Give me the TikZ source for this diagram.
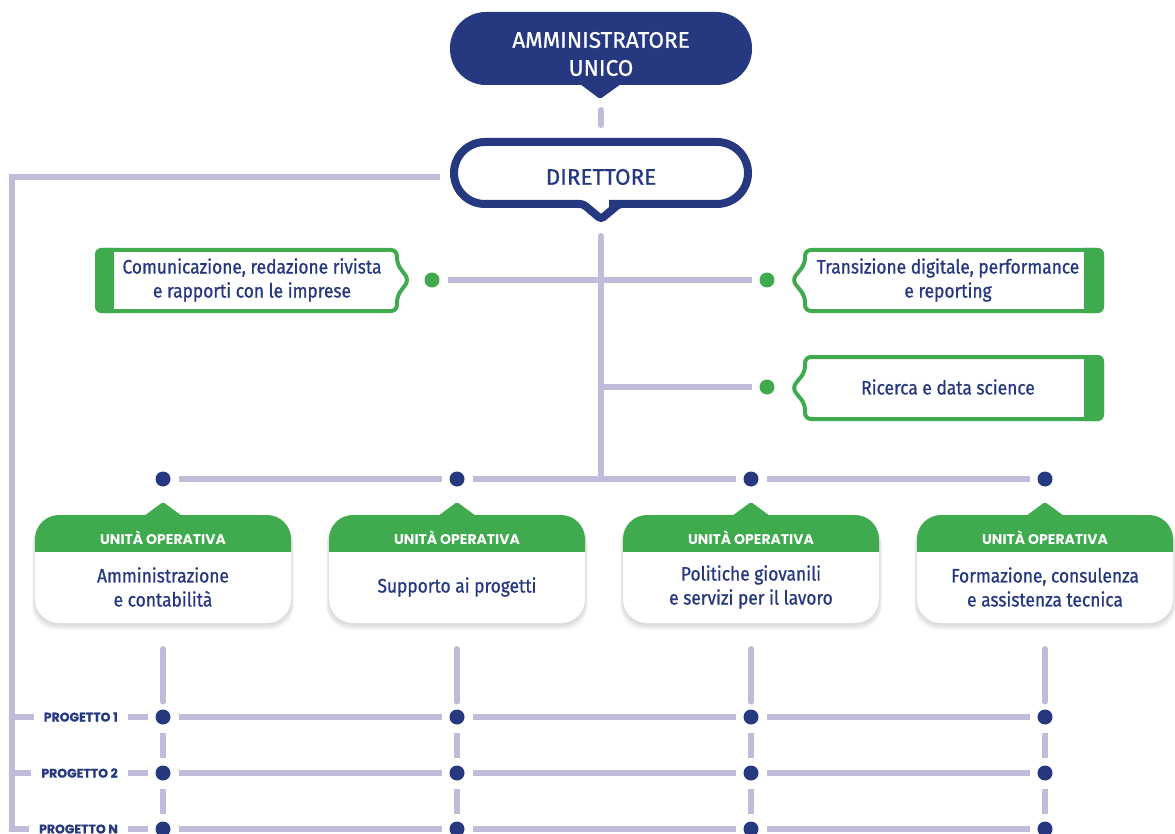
\documentclass[tikz,border=0pt]{standalone}
\usepackage{fontspec}
\setmainfont{Fira Sans}[FakeStretch=0.89, FakeBold=0.8]
\newfontfamily\titlefont{Fira Sans}[FakeBold=0.8]
\newfontfamily\heavyfont{Poppins}
\newfontfamily\blackfont{Poppins}[FakeBold=0.6]
\usetikzlibrary{calc}
\definecolor{navy}{RGB}{38,56,128}
\definecolor{leafgreen}{RGB}{64,170,79}
\definecolor{lavender}{RGB}{191,188,218}

\begin{document}
\begin{tikzpicture}[x=1pt,y=-1pt,
  link/.style={draw=lavender, line width=6pt},
  navydot/.style={circle, fill=navy, minimum size=15pt, inner sep=0pt, outer sep=8pt},
  greendot/.style={circle, fill=leafgreen, minimum size=15pt, inner sep=0pt, outer sep=8pt},
  bodytext/.style={text=navy, font=\fontsize{19.5}{24}\selectfont, align=center, inner sep=0pt},
  toptext/.style={font=\titlefont\fontsize{22.5}{28}\selectfont, align=center, inner sep=0pt},
  headtext/.style={text=white, font=\heavyfont\bfseries\fontsize{14}{16}\selectfont, inner sep=0pt},
  projtext/.style={text=navy, font=\blackfont\bfseries\fontsize{12.5}{14}\selectfont, inner xsep=10pt, inner ysep=0pt, anchor=east},
  greenframe/.style={draw=leafgreen, line width=4pt, fill=white, rounded corners=6},
]
\useasboundingbox (0,0) rectangle (1175,834);

% --- Amministratore unico ---
\fill[navy, rounded corners=36] (450,12) rectangle (752,85);
\fill[navy, rounded corners=2] (580,84) -- (600,99) -- (621,84) -- cycle;
\node[toptext, text=white] (admin) at (601,54) {AMMINISTRATORE\\UNICO};

% --- Direttore ---
\draw[navy, line width=8pt, fill=white, rounded corners=31]
  (601,142) -- (748,142) -- (748,204) -- (640,204)
  [rounded corners=3] -- (619,204) -- (601,219) -- (583,204) -- (560,204)
  [rounded corners=31] -- (454,204) -- (454,142) -- cycle;
\node[toptext, text=navy] (dir) at (601,177) {DIRETTORE};

\coordinate (adminfoot) at (601,110);
\coordinate (dirhead) at (601,125);
\draw[link, line cap=round] (adminfoot) -- (dirhead);

% --- staff boxes ---
\draw[greenframe] (250,250) -- (397,250) -- (397,264) -- (409,280) -- (397,296)
  -- (397,311) -- (97,311) -- (97,250) -- cycle;
\fill[leafgreen] (114,248) [rounded corners=6] -- (95,248) -- (95,313) -- (105,313)
  [sharp corners] -- (114,313) -- cycle;
\node[bodytext] (comm) at (252,280) {Comunicazione, redazione rivista\\e rapporti con le imprese};

\draw[greenframe] (950,250) -- (1102,250) -- (1102,311) -- (805,311) -- (805,296)
  -- (792,280) -- (805,264) -- (805,250) -- cycle;
\fill[leafgreen] (1084,248) [rounded corners=6] -- (1104,248) -- (1104,313) -- (1094,313)
  [sharp corners] -- (1084,313) -- cycle;
\node[bodytext] (trans) at (948,280) {Transizione digitale, performance\\e reporting};

\draw[greenframe] (950,357) -- (1102,357) -- (1102,419) -- (805,419) -- (805,404)
  -- (792,388) -- (805,372) -- (805,357) -- cycle;
\fill[leafgreen] (1084,355) [rounded corners=6] -- (1104,355) -- (1104,421) -- (1094,421)
  [sharp corners] -- (1084,421) -- cycle;
\node[bodytext] (ric) at (948,387) {Ricerca e data science};

% --- connectors from the direttore ---
\node[greendot] (gcom) at (432,280) {};
\node[greendot] (gtra) at (767,280) {};
\node[greendot] (gric) at (767,387) {};
\coordinate (dirfoot) at (601,236);
\coordinate (trunkbase) at (601,479);
\coordinate (trunkric) at (598,387);
\draw[link] (gcom) -- (gtra);
\draw[link] (trunkric) -- (gric);

\foreach \i/\c in {1/163, 2/457, 3/751, 4/1045} {
  \node[navydot] (u\i) at (\c,479) {};
}
\draw[link] (u1) -- (u2);
\draw[link] (u2) -- (u3);
\draw[link] (u3) -- (u4);
\draw[link, line cap=round] (dirfoot) -- (trunkbase);

% --- unità operative ---
\foreach \i/\c/\txt in {1/163/{Amministrazione\\e contabilità},
                        2/457/{Supporto ai progetti},
                        3/751/{Politiche giovanili\\e servizi per il lavoro},
                        4/1045/{Formazione, consulenza\\e assistenza tecnica}} {
  \foreach \k in {1,...,6} {
    \fill[black, opacity=0.025, rounded corners=24]
      ({\c-128-\k/2},{515+\k}) rectangle ({\c+128+\k/2},{624+\k});
  }
  \fill[white, rounded corners=24] ({\c-128},515) rectangle ({\c+128},623);
  \begin{scope}
    \clip[rounded corners=24] ({\c-128},515) rectangle ({\c+128},623);
    \fill[leafgreen] ({\c-130},510) rectangle ({\c+130},552);
  \end{scope}
  \fill[leafgreen, rounded corners=2] ({\c-19},516) -- (\c,502) -- ({\c+19},516) -- cycle;
  \node[headtext] (h\i) at (\c,538) {UNITÀ OPERATIVA};
  \node[bodytext] (b\i) at (\c,587) {\txt};
  \coordinate (f\i) at (\c,649);
}

% --- progetti ---
\foreach \r/\y in {1/717, 2/773, 3/829} {
  \foreach \i/\c in {1/163, 2/457, 3/751, 4/1045} {
    \node[navydot] (p\r\i) at (\c,\y) {};
  }
}
\node[projtext] (lab1) at (128,717) {PROGETTO 1};
\node[projtext] (lab2) at (128,773) {PROGETTO 2};
\node[projtext] (lab3) at (128,829) {PROGETTO N};

\foreach \i in {1,2,3,4} {
  \draw[link, line cap=round] (f\i) -- (p1\i);
  \draw[link] (p1\i) -- (p2\i);
  \draw[link] (p2\i) -- (p3\i);
}
\foreach \r in {1,2,3} {
  \draw[link] (lab\r) -- (p\r1);
  \draw[link] (p\r1) -- (p\r2);
  \draw[link] (p\r2) -- (p\r3);
  \draw[link] (p\r3) -- (p\r4);
}

% --- line from the direttore to the progetti ---
\coordinate (dirwest) at (440,177);
\coordinate (spinetop) at (12,177);
\coordinate (spinebot) at (12,829);
\coordinate (s1) at (12,717);
\coordinate (s2) at (12,773);
\draw[link, line join=miter] (dirwest) -- (spinetop) -- (spinebot) -- (lab3);
\draw[link] (s1) -- (lab1);
\draw[link] (s2) -- (lab2);
\end{tikzpicture}
\end{document}
